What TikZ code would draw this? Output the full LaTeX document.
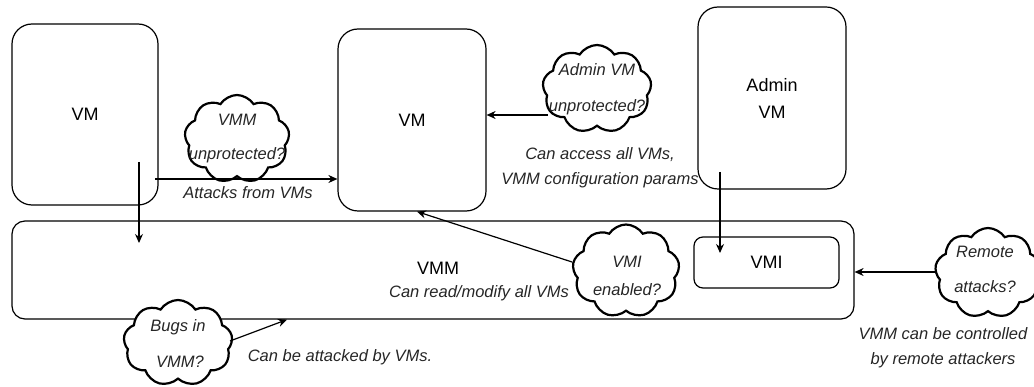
\documentclass[tikz,border=0pt]{standalone}
\usepackage{fontspec}
\setmainfont{Liberation Sans}
\usetikzlibrary{shapes.symbols,arrows.meta}
\begin{document}
\begin{tikzpicture}[x=1pt,y=-1pt,
  vmbox/.style={draw, line width=1.2pt, rounded corners=20pt, align=center, font=\fontsize{18}{27}\selectfont},
  smallbox/.style={draw, line width=1.2pt, rounded corners=9pt, font=\fontsize{18}{22}\selectfont},
  bigbox/.style={draw, line width=1.2pt, rounded corners=13pt, font=\fontsize{18}{22}\selectfont},
  thought/.style={draw, shape=cloud, cloud puffs=9, cloud puff arc=115, cloud ignores aspect, line width=2.2pt, fill=white, inner sep=0pt},
  ctext/.style={font=\itshape\fontsize{16.5}{18}\selectfont, inner sep=0pt, text=black!85},
  lbl/.style={font=\itshape\fontsize{16.5}{25}\selectfont, inner sep=0pt, align=center, text=black!85},
  arr/.style={-{Stealth[length=9pt,width=8pt]}, line width=1.2pt}
]
\useasboundingbox (0,0) rectangle (1034,387);
\clip (0,0) rectangle (1034,387);

% boxes
\node[vmbox, minimum width=146pt, minimum height=181pt] (vm1) at (85,114.5) {VM};
\node[vmbox, minimum width=148pt, minimum height=182pt] (vm2) at (412,120) {VM};
\node[vmbox, minimum width=148pt, minimum height=182pt] (adm) at (772,98) {Admin\\VM};
\node[bigbox, minimum width=842pt, minimum height=98pt] (vmm) at (433,270) {};
\node[font=\fontsize{18}{22}\selectfont] (vmmt) at (438,268) {VMM};
\node[smallbox, minimum width=145pt, minimum height=51pt] (vmi) at (766.5,262.5) {VMI};

% clouds
\node[thought, minimum width=105pt, minimum height=88pt] (c1) at (237,139) {};
\node[ctext] (c1a) at (237,120) {VMM};
\node[ctext] (c1b) at (237,155) {unprotected?};

\node[thought, minimum width=109pt, minimum height=88pt] (c2) at (597,89) {};
\node[ctext] (c2a) at (597,70) {Admin VM};
\node[ctext] (c2b) at (597,107) {unprotected?};

\node[thought, minimum width=107pt, minimum height=93pt] (c3) at (626,271) {};
\node[ctext] (c3a) at (627,262) {VMI};
\node[ctext] (c3b) at (627,290) {enabled?};

\node[thought, minimum width=109pt, minimum height=86pt] (c4) at (178,343) {};
\node[ctext] (c4a) at (178,327) {Bugs in};
\node[ctext] (c4b) at (180,362) {VMM?};

\node[thought, minimum width=106pt, minimum height=90pt] (c5) at (988,273) {};
\node[ctext] (c5a) at (985,252) {Remote};
\node[ctext] (c5b) at (985,287) {attacks?};

% labels
\node[lbl] (l1) at (248,193) {Attacks from VMs};
\node[lbl] (l2) at (600,167.5) {Can access all VMs,\\VMM configuration params};
\node[lbl] (l3) at (479,293) {Can read/modify all VMs};
\node[lbl] (l4) at (340,357) {Can be attacked by VMs.};
\node[lbl] (l5) at (943,347.5) {VMM can be controlled\\by remote attackers};

% connectors
\coordinate (a1s) at (139,162);
\coordinate (a1e) at (139,243);
\draw[arr] (a1s) -- (a1e);

\coordinate (a2s) at (155,179);
\draw[arr] (a2s) -- (a2s -| vm2.west);

\coordinate (a3s) at (548,115);
\draw[arr] (a3s) -- (a3s -| vm2.east);

\coordinate (a4s) at (720,172);
\coordinate (a4e) at (720,253);
\draw[arr] (a4s) -- (a4e);

\coordinate (a5s) at (572,262);
\draw[arr] (a5s) -- ([xshift=5pt]vm2.south);

\coordinate (a6s) at (230,341);
\draw[arr] (a6s) -- ([xshift=-146pt]vmm.south);

\coordinate (a7s) at (935,272);
\draw[arr] (a7s) -- (a7s -| vmm.east);
\end{tikzpicture}
\end{document}
